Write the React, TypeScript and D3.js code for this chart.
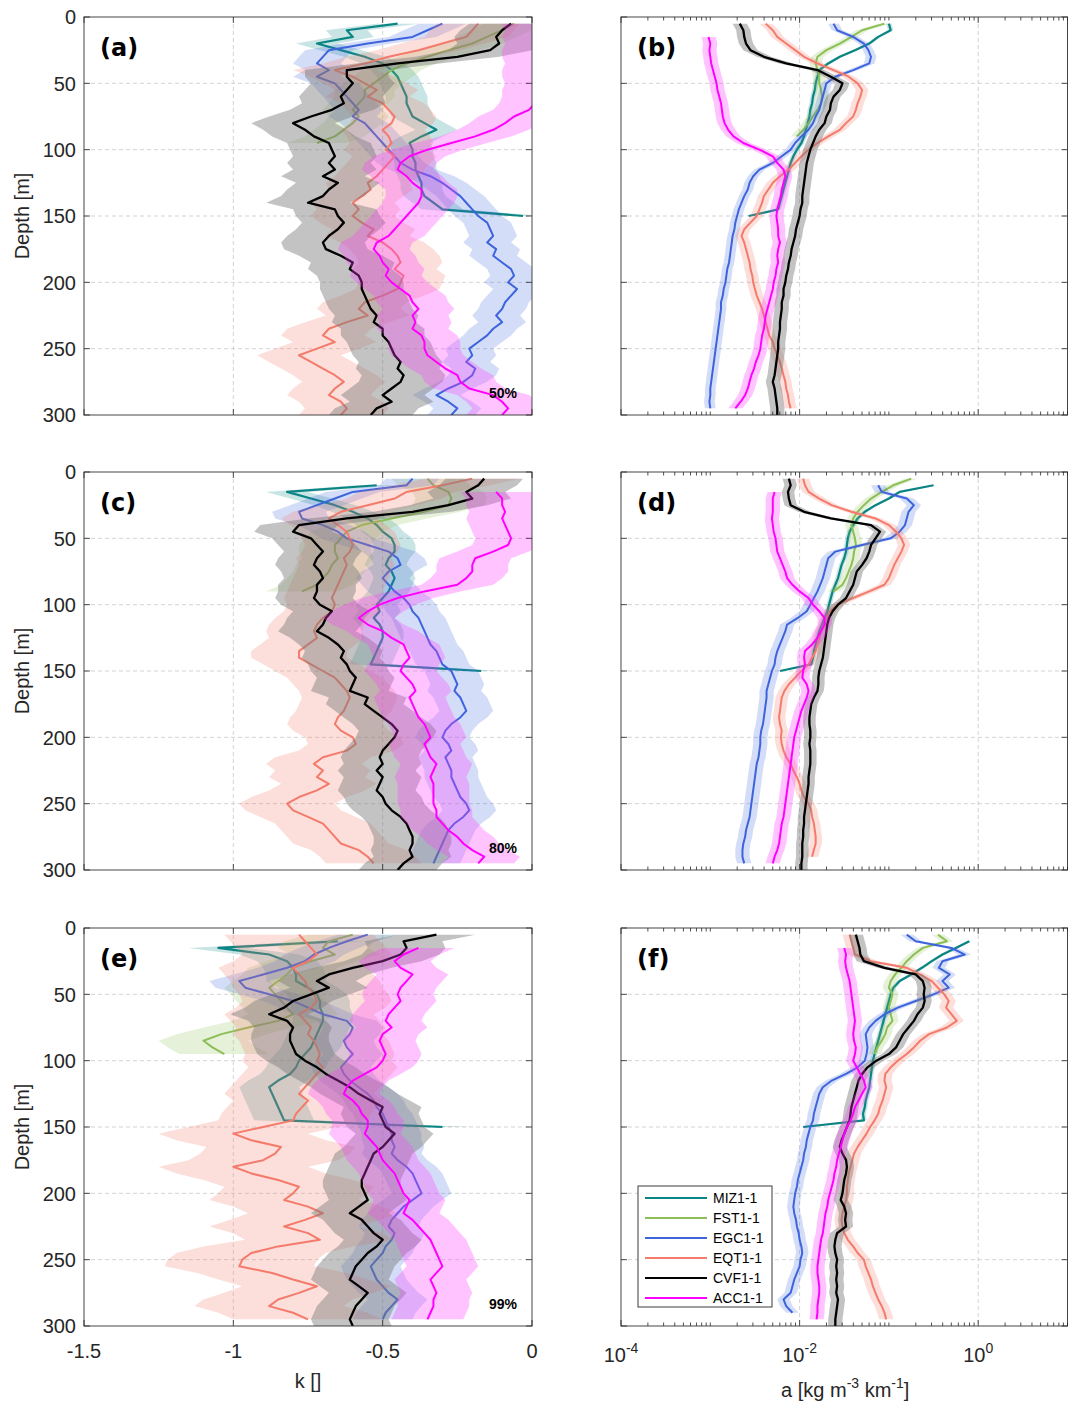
import React from "react";
import * as d3 from "d3";

// depth grid (m)
const DEPTHS = [0,5,10,15,20,25,30,35,40,45,50,55,60,65,70,75,80,85,90,95,100,105,110,115,120,125,130,135,140,145,150,155,160,165,170,175,180,185,190,195,200,205,210,215,220,225,230,235,240,245,250,255,260,265,270,275,280,285,290,295,300];

const SERIES_NAMES = ["MIZ1-1","FST1-1","EGC1-1","EQT1-1","CVF1-1","ACC1-1"];
const PANEL_LABELS = ["(a)","(b)","(c)","(d)","(e)","(f)"];
const PERCENT_LABELS = ["50%","80%","99%"];
const K_TICKS = [-1.5,-1,-0.5,0];
const K_TICK_LABELS = ["-1.5","-1","-0.5","0"];
const DEPTH_TICKS = [0,50,100,150,200,250,300];
const LOG_MAJOR = [-4,-2,0];

// ---- panel (a): k, 50% ----
const MIZ_A = [null,-0.45,-0.62,-0.60,-0.72,-0.64,-0.56,-0.50,-0.47,-0.45,-0.44,-0.43,-0.42,-0.42,-0.41,-0.40,-0.36,-0.32,-0.37,-0.41,-0.40,-0.40,-0.39,-0.39,-0.38,-0.37,-0.37,-0.36,-0.33,-0.30,-0.03];
const FST_A = [null,-0.06,-0.10,-0.15,-0.20,-0.28,-0.35,-0.42,-0.47,-0.50,-0.53,-0.56,-0.56,-0.58,-0.60,-0.58,-0.60,-0.63,-0.66,-0.72];
const EGC_A = [null,-0.30,-0.35,-0.40,-0.55,-0.68,-0.70,-0.72,-0.68,-0.72,-0.66,-0.64,-0.62,-0.60,-0.58,-0.60,-0.56,-0.54,-0.52,-0.50,-0.48,-0.46,-0.44,-0.40,-0.34,-0.30,-0.27,-0.24,-0.22,-0.20,-0.18,-0.15,-0.14,-0.13,-0.15,-0.12,-0.13,-0.10,-0.07,-0.06,-0.08,-0.05,-0.07,-0.09,-0.10,-0.12,-0.10,-0.13,-0.15,-0.18,-0.21,-0.20,-0.22,-0.19,-0.20,-0.23,-0.28,-0.32,-0.28,-0.25,-0.27];
const EQT_A = [null,-0.18,-0.20,-0.22,-0.30,-0.38,-0.48,-0.56,-0.66,-0.60,-0.56,-0.52,-0.55,-0.50,-0.48,-0.46,-0.47,-0.50,-0.48,-0.47,-0.49,-0.46,-0.48,-0.50,-0.52,-0.55,-0.54,-0.57,-0.60,-0.58,-0.60,-0.57,-0.53,-0.55,-0.50,-0.47,-0.45,-0.44,-0.46,-0.43,-0.44,-0.45,-0.50,-0.56,-0.58,-0.55,-0.62,-0.68,-0.70,-0.66,-0.72,-0.78,-0.74,-0.70,-0.66,-0.63,-0.66,-0.68,-0.64,-0.62,-0.64];
const CVF_A = [null,-0.07,-0.10,-0.12,-0.11,-0.14,-0.25,-0.45,-0.62,-0.62,-0.60,-0.62,-0.64,-0.63,-0.67,-0.74,-0.80,-0.76,-0.73,-0.68,-0.67,-0.66,-0.68,-0.66,-0.70,-0.65,-0.68,-0.70,-0.75,-0.66,-0.65,-0.63,-0.65,-0.68,-0.70,-0.69,-0.64,-0.60,-0.61,-0.58,-0.57,-0.57,-0.56,-0.55,-0.54,-0.52,-0.53,-0.50,-0.50,-0.48,-0.47,-0.46,-0.44,-0.45,-0.43,-0.44,-0.47,-0.50,-0.47,-0.52,-0.54];
const ACC_A = [null,0.02,0.03,0.02,0.03,0.02,0.02,0.03,0.02,0.02,0.03,0.02,0.02,0.01,-0.01,-0.06,-0.09,-0.13,-0.19,-0.27,-0.35,-0.41,-0.44,-0.45,-0.42,-0.40,-0.37,-0.37,-0.38,-0.40,-0.42,-0.44,-0.46,-0.48,-0.52,-0.53,-0.51,-0.50,-0.48,-0.49,-0.47,-0.44,-0.41,-0.40,-0.38,-0.40,-0.39,-0.40,-0.37,-0.36,-0.36,-0.35,-0.32,-0.29,-0.25,-0.24,-0.21,-0.13,-0.10,-0.08,-0.10];

// ---- panel (b): log10 a, 50% ----
const MIZ_B = [null,-1.00,-0.98,-1.12,-1.22,-1.38,-1.55,-1.68,-1.78,-1.80,-1.82,-1.83,-1.85,-1.86,-1.88,-1.89,-1.91,-1.93,-1.95,-1.98,-2.03,-2.07,-2.10,-2.12,-2.14,-2.16,-2.18,-2.20,-2.22,-2.24,-2.57];
const FST_B = [null,-1.05,-1.30,-1.42,-1.55,-1.70,-1.80,-1.82,-1.80,-1.78,-1.78,-1.76,-1.75,-1.76,-1.80,-1.85,-1.90,-1.96,-2.03];
const EGC_B = [null,-1.62,-1.58,-1.40,-1.28,-1.23,-1.20,-1.22,-1.40,-1.60,-1.70,-1.72,-1.74,-1.76,-1.78,-1.82,-1.85,-1.90,-1.98,-2.05,-2.10,-2.20,-2.30,-2.45,-2.52,-2.56,-2.58,-2.62,-2.65,-2.68,-2.70,-2.72,-2.73,-2.75,-2.76,-2.77,-2.78,-2.79,-2.81,-2.82,-2.83,-2.85,-2.86,-2.88,-2.88,-2.89,-2.90,-2.91,-2.92,-2.93,-2.94,-2.95,-2.96,-2.97,-2.98,-2.99,-3.00,-3.00,-3.01,-3.00];
const EQT_B = [null,-2.38,-2.30,-2.25,-2.15,-2.05,-1.95,-1.80,-1.62,-1.45,-1.35,-1.30,-1.32,-1.35,-1.37,-1.40,-1.48,-1.55,-1.68,-1.80,-1.90,-1.98,-2.05,-2.12,-2.22,-2.30,-2.35,-2.40,-2.42,-2.45,-2.48,-2.55,-2.62,-2.65,-2.62,-2.60,-2.58,-2.56,-2.55,-2.53,-2.52,-2.50,-2.48,-2.45,-2.42,-2.40,-2.38,-2.36,-2.34,-2.30,-2.28,-2.25,-2.22,-2.20,-2.18,-2.16,-2.15,-2.13,-2.12,-2.10];
const CVF_B = [null,-2.67,-2.63,-2.62,-2.60,-2.55,-2.40,-2.15,-1.80,-1.65,-1.52,-1.55,-1.62,-1.65,-1.66,-1.70,-1.72,-1.78,-1.82,-1.85,-1.88,-1.90,-1.92,-1.93,-1.94,-1.95,-1.96,-1.97,-1.97,-1.99,-2.00,-2.02,-2.04,-2.05,-2.07,-2.09,-2.10,-2.12,-2.13,-2.15,-2.16,-2.18,-2.18,-2.20,-2.20,-2.21,-2.22,-2.22,-2.23,-2.24,-2.24,-2.25,-2.26,-2.27,-2.28,-2.30,-2.28,-2.27,-2.26,-2.25,-2.25];
const ACC_B = [null,null,null,-3.02,-3.00,-3.01,-3.00,-2.99,-2.97,-2.95,-2.93,-2.92,-2.90,-2.88,-2.87,-2.86,-2.84,-2.80,-2.74,-2.63,-2.45,-2.30,-2.25,-2.18,-2.16,-2.18,-2.20,-2.21,-2.23,-2.25,-2.26,-2.25,-2.24,-2.24,-2.22,-2.24,-2.25,-2.24,-2.26,-2.27,-2.29,-2.30,-2.32,-2.34,-2.36,-2.38,-2.39,-2.40,-2.42,-2.43,-2.44,-2.46,-2.49,-2.51,-2.54,-2.56,-2.58,-2.61,-2.66,-2.72];

// ---- panel (c): k, 80% ----
const MIZ_C = [null,null,-0.52,-0.82,-0.74,-0.66,-0.60,-0.55,-0.52,-0.50,-0.47,-0.46,-0.46,-0.48,-0.49,-0.47,-0.46,-0.47,-0.48,-0.50,-0.52,-0.51,-0.53,-0.51,-0.50,-0.50,-0.51,-0.52,-0.53,-0.54,-0.17];
const FST_C = [null,-0.35,-0.33,-0.28,-0.27,-0.28,-0.36,-0.47,-0.57,-0.62,-0.64,-0.66,-0.66,-0.65,-0.67,-0.68,-0.70,-0.72,-0.77];
const EGC_C = [null,-0.40,-0.42,-0.60,-0.66,-0.72,-0.78,-0.77,-0.70,-0.65,-0.62,-0.55,-0.48,-0.45,-0.44,-0.48,-0.50,-0.48,-0.46,-0.43,-0.41,-0.40,-0.38,-0.37,-0.36,-0.35,-0.34,-0.32,-0.31,-0.30,-0.27,-0.26,-0.25,-0.26,-0.24,-0.23,-0.22,-0.24,-0.27,-0.29,-0.30,-0.28,-0.27,-0.29,-0.28,-0.27,-0.27,-0.26,-0.25,-0.24,-0.22,-0.21,-0.23,-0.26,-0.28,-0.29,-0.30,-0.31,-0.32,-0.33];
const EQT_C = [null,-0.20,-0.30,-0.42,-0.46,-0.55,-0.64,-0.68,-0.65,-0.62,-0.61,-0.60,-0.61,-0.63,-0.62,-0.63,-0.64,-0.65,-0.66,-0.67,-0.66,-0.67,-0.70,-0.72,-0.73,-0.72,-0.75,-0.78,-0.78,-0.74,-0.70,-0.66,-0.64,-0.62,-0.61,-0.62,-0.63,-0.65,-0.66,-0.64,-0.60,-0.59,-0.62,-0.70,-0.73,-0.70,-0.72,-0.68,-0.72,-0.78,-0.82,-0.80,-0.75,-0.70,-0.68,-0.66,-0.64,-0.58,-0.55,-0.53];
const CVF_C = [null,-0.16,-0.18,-0.22,-0.20,-0.28,-0.40,-0.62,-0.78,-0.80,-0.74,-0.72,-0.70,-0.72,-0.73,-0.71,-0.70,-0.72,-0.72,-0.73,-0.71,-0.67,-0.69,-0.70,-0.72,-0.68,-0.65,-0.63,-0.64,-0.62,-0.61,-0.59,-0.60,-0.61,-0.55,-0.56,-0.53,-0.50,-0.47,-0.45,-0.46,-0.48,-0.50,-0.51,-0.50,-0.52,-0.50,-0.51,-0.52,-0.50,-0.49,-0.47,-0.44,-0.42,-0.41,-0.40,-0.40,-0.41,-0.40,-0.43,-0.45];
const ACC_C = [null,null,null,-0.12,-0.10,-0.10,-0.09,-0.10,-0.09,-0.08,-0.07,-0.08,-0.13,-0.19,-0.20,-0.20,-0.22,-0.25,-0.36,-0.45,-0.51,-0.55,-0.58,-0.55,-0.50,-0.47,-0.43,-0.42,-0.41,-0.43,-0.44,-0.42,-0.40,-0.39,-0.41,-0.40,-0.39,-0.38,-0.36,-0.35,-0.34,-0.36,-0.35,-0.34,-0.32,-0.33,-0.34,-0.33,-0.33,-0.33,-0.33,-0.32,-0.32,-0.30,-0.28,-0.25,-0.23,-0.20,-0.16,-0.18];

// ---- panel (d): log10 a, 80% ----
const MIZ_D = [null,null,-0.50,-0.88,-1.00,-1.15,-1.27,-1.35,-1.40,-1.44,-1.46,-1.47,-1.48,-1.50,-1.53,-1.55,-1.57,-1.60,-1.63,-1.65,-1.67,-1.69,-1.72,-1.75,-1.78,-1.80,-1.82,-1.84,-1.85,-1.87,-2.22];
const FST_D = [null,-0.75,-0.95,-1.08,-1.20,-1.28,-1.35,-1.40,-1.42,-1.40,-1.38,-1.37,-1.39,-1.40,-1.42,-1.45,-1.48,-1.52,-1.62];
const EGC_D = [null,null,-1.12,-1.08,-0.80,-0.72,-0.78,-0.80,-0.82,-0.88,-0.98,-1.30,-1.60,-1.68,-1.70,-1.72,-1.74,-1.77,-1.80,-1.84,-1.88,-1.92,-2.02,-2.14,-2.16,-2.19,-2.22,-2.25,-2.27,-2.28,-2.31,-2.33,-2.35,-2.37,-2.37,-2.38,-2.39,-2.40,-2.41,-2.43,-2.44,-2.44,-2.45,-2.46,-2.48,-2.49,-2.50,-2.51,-2.52,-2.53,-2.54,-2.55,-2.56,-2.58,-2.60,-2.61,-2.63,-2.64,-2.64,-2.62];
const EQT_D = [null,-1.96,-1.94,-1.90,-1.78,-1.64,-1.42,-1.15,-1.00,-0.92,-0.86,-0.83,-0.86,-0.90,-0.94,-0.97,-1.00,-1.05,-1.22,-1.40,-1.58,-1.66,-1.70,-1.72,-1.76,-1.78,-1.80,-1.82,-1.86,-1.90,-1.98,-2.05,-2.12,-2.17,-2.20,-2.21,-2.22,-2.23,-2.22,-2.20,-2.21,-2.20,-2.18,-2.15,-2.10,-2.07,-2.03,-2.00,-1.98,-1.95,-1.90,-1.87,-1.86,-1.84,-1.83,-1.82,-1.82,-1.84,-1.86];
const CVF_D = [null,-2.12,-2.10,-2.13,-2.12,-2.10,-1.95,-1.65,-1.20,-1.10,-1.15,-1.20,-1.22,-1.25,-1.30,-1.36,-1.38,-1.40,-1.44,-1.48,-1.57,-1.63,-1.67,-1.69,-1.70,-1.71,-1.72,-1.73,-1.74,-1.76,-1.78,-1.79,-1.79,-1.80,-1.84,-1.87,-1.88,-1.89,-1.89,-1.88,-1.88,-1.89,-1.88,-1.88,-1.88,-1.89,-1.90,-1.90,-1.91,-1.92,-1.93,-1.94,-1.95,-1.95,-1.96,-1.96,-1.97,-1.97,-1.97,-1.98,-1.98];
const ACC_D = [null,null,null,-2.28,-2.30,-2.30,-2.30,-2.31,-2.30,-2.29,-2.27,-2.26,-2.25,-2.22,-2.19,-2.16,-2.14,-2.08,-2.00,-1.90,-1.85,-1.78,-1.72,-1.72,-1.76,-1.80,-1.86,-1.94,-1.95,-1.94,-1.96,-1.97,-1.92,-1.90,-1.92,-1.95,-1.98,-2.00,-2.02,-2.04,-2.06,-2.07,-2.08,-2.09,-2.10,-2.11,-2.12,-2.13,-2.14,-2.15,-2.16,-2.17,-2.18,-2.20,-2.21,-2.22,-2.23,-2.25,-2.28,-2.30];

// ---- panel (e): k, 99% ----
const MIZ_E = [null,null,-0.65,-1.05,-0.88,-0.82,-0.80,-0.79,-0.79,-0.75,-0.72,-0.71,-0.71,-0.70,-0.70,-0.71,-0.72,-0.73,-0.74,-0.76,-0.78,-0.79,-0.81,-0.85,-0.88,-0.87,-0.86,-0.85,-0.84,-0.83,-0.30];
const FST_E = [null,-0.60,-0.68,-0.70,-0.66,-0.74,-0.80,-0.82,-0.85,-0.88,-0.86,-0.84,-0.82,-0.80,-0.85,-0.95,-1.04,-1.10,-1.07,-1.03];
const EGC_E = [null,-0.55,-0.62,-0.68,-0.73,-0.76,-0.82,-0.90,-0.98,-0.96,-0.88,-0.80,-0.75,-0.70,-0.62,-0.60,-0.61,-0.63,-0.62,-0.60,-0.62,-0.64,-0.63,-0.61,-0.58,-0.55,-0.53,-0.52,-0.50,-0.49,-0.48,-0.47,-0.47,-0.46,-0.47,-0.45,-0.42,-0.40,-0.39,-0.38,-0.37,-0.40,-0.43,-0.45,-0.47,-0.48,-0.46,-0.47,-0.49,-0.50,-0.52,-0.54,-0.53,-0.52,-0.50,-0.48,-0.45,-0.47,-0.49,-0.50];
const EQT_E = [null,-0.78,-0.76,-0.74,-0.72,-0.75,-0.80,-0.78,-0.76,-0.75,-0.73,-0.72,-0.74,-0.78,-0.76,-0.74,-0.75,-0.73,-0.72,-0.71,-0.72,-0.70,-0.72,-0.74,-0.76,-0.78,-0.75,-0.77,-0.79,-0.80,-0.90,-1.00,-0.94,-0.84,-0.86,-0.90,-1.00,-0.94,-0.85,-0.78,-0.80,-0.83,-0.75,-0.70,-0.76,-0.83,-0.75,-0.71,-0.85,-0.94,-0.97,-0.98,-0.87,-0.80,-0.72,-0.78,-0.85,-0.88,-0.80,-0.75];
const CVF_E = [null,-0.32,-0.43,-0.42,-0.44,-0.50,-0.60,-0.68,-0.72,-0.68,-0.74,-0.80,-0.83,-0.88,-0.82,-0.80,-0.81,-0.81,-0.80,-0.79,-0.76,-0.72,-0.69,-0.65,-0.61,-0.58,-0.54,-0.50,-0.51,-0.50,-0.49,-0.46,-0.48,-0.50,-0.53,-0.54,-0.55,-0.56,-0.57,-0.57,-0.56,-0.55,-0.58,-0.61,-0.57,-0.55,-0.53,-0.50,-0.52,-0.55,-0.57,-0.59,-0.60,-0.61,-0.58,-0.55,-0.57,-0.59,-0.60,-0.61,-0.60];
const ACC_E = [null,null,null,-0.38,-0.43,-0.46,-0.44,-0.40,-0.42,-0.44,-0.45,-0.44,-0.46,-0.48,-0.49,-0.47,-0.50,-0.51,-0.50,-0.49,-0.50,-0.52,-0.56,-0.60,-0.62,-0.63,-0.60,-0.58,-0.57,-0.55,-0.55,-0.56,-0.54,-0.52,-0.51,-0.50,-0.48,-0.46,-0.45,-0.44,-0.43,-0.41,-0.42,-0.43,-0.40,-0.38,-0.36,-0.34,-0.33,-0.32,-0.31,-0.30,-0.32,-0.34,-0.33,-0.32,-0.33,-0.33,-0.34,-0.35];

// ---- panel (f): log10 a, 99% ----
const MIZ_F = [null,null,-0.10,-0.25,-0.40,-0.52,-0.63,-0.75,-0.88,-0.95,-0.98,-1.00,-1.02,-1.04,-1.06,-1.08,-1.10,-1.12,-1.14,-1.16,-1.18,-1.19,-1.20,-1.21,-1.22,-1.24,-1.26,-1.27,-1.29,-1.28,-1.96];
const FST_F = [null,-0.45,-0.35,-0.62,-0.72,-0.80,-0.86,-0.93,-0.98,-1.00,-0.96,-0.98,-1.00,-0.98,-0.96,-1.02,-1.04,-1.08,-1.13,-1.16];
const EGC_F = [null,-0.80,-0.70,-0.30,-0.15,-0.40,-0.44,-0.32,-0.40,-0.33,-0.50,-0.70,-0.90,-1.05,-1.15,-1.22,-1.26,-1.25,-1.24,-1.25,-1.27,-1.35,-1.48,-1.64,-1.74,-1.78,-1.80,-1.82,-1.84,-1.85,-1.88,-1.90,-1.92,-1.93,-1.95,-1.96,-1.98,-2.00,-2.02,-2.03,-2.05,-2.06,-2.07,-2.06,-2.04,-2.03,-2.01,-2.00,-1.98,-1.97,-1.99,-2.00,-2.03,-2.06,-2.08,-2.10,-2.18,-2.15,-2.08];
const EQT_F = [null,-1.44,-1.42,-1.40,-1.38,-1.20,-0.80,-0.65,-0.52,-0.45,-0.38,-0.33,-0.36,-0.30,-0.24,-0.35,-0.55,-0.65,-0.72,-0.80,-0.90,-0.98,-1.04,-1.05,-1.03,-1.05,-1.07,-1.10,-1.12,-1.16,-1.21,-1.25,-1.30,-1.35,-1.39,-1.41,-1.43,-1.45,-1.46,-1.47,-1.47,-1.48,-1.50,-1.52,-1.53,-1.52,-1.50,-1.46,-1.40,-1.35,-1.28,-1.26,-1.23,-1.20,-1.18,-1.15,-1.12,-1.08,-1.05,-1.03];
const CVF_F = [null,-1.37,-1.35,-1.33,-1.32,-1.28,-1.05,-0.70,-0.62,-0.60,-0.61,-0.60,-0.62,-0.68,-0.72,-0.78,-0.84,-0.88,-0.92,-1.00,-1.14,-1.24,-1.30,-1.34,-1.36,-1.38,-1.40,-1.42,-1.43,-1.44,-1.47,-1.50,-1.53,-1.55,-1.52,-1.48,-1.47,-1.48,-1.50,-1.51,-1.52,-1.54,-1.50,-1.48,-1.49,-1.48,-1.58,-1.60,-1.61,-1.60,-1.58,-1.59,-1.58,-1.59,-1.58,-1.59,-1.57,-1.58,-1.59,-1.60,-1.60];
const ACC_F = [null,null,null,-1.50,-1.48,-1.49,-1.48,-1.46,-1.44,-1.43,-1.42,-1.41,-1.40,-1.39,-1.38,-1.39,-1.40,-1.39,-1.37,-1.38,-1.40,-1.36,-1.32,-1.28,-1.26,-1.30,-1.34,-1.38,-1.40,-1.43,-1.47,-1.50,-1.52,-1.54,-1.56,-1.58,-1.59,-1.61,-1.62,-1.64,-1.66,-1.68,-1.69,-1.71,-1.72,-1.73,-1.74,-1.76,-1.77,-1.78,-1.79,-1.80,-1.80,-1.79,-1.78,-1.78,-1.79,-1.80,-1.80,-1.81];

// spread half-widths (k units for left panels, decades for right panels), order MIZ,FST,EGC,EQT,CVF,ACC
const BAND_A = [0.07,0.10,0.08,0.14,0.14,0.12];
const BAND_B = [0.03,0.07,0.06,0.07,0.08,0.08];
const BAND_C = [0.07,0.12,0.09,0.16,0.13,0.12];
const BAND_D = [0.03,0.07,0.08,0.07,0.07,0.08];
const BAND_E = [0.10,0.15,0.10,0.25,0.13,0.12];
const BAND_F = [0.03,0.07,0.07,0.08,0.08,0.08];

const COLORS = ["#0b8583","#8cbf55","#3d63dd","#f47b6b","#000000","#ff00ff"];
const BAND_COLORS = ["#0b8583","#8cbf55","#3d63dd","#f47b6b","#7a7a7a","#ff3cff"];
const BAND_OPAC = [0.22,0.22,0.22,0.25,0.45,0.3];
const LINE_W = [2.2, 2, 2, 2, 2.3, 2];

const PANELS = [
  { data: [MIZ_A, FST_A, EGC_A, EQT_A, CVF_A, ACC_A], band: BAND_A, col: 0, row: 0 },
  { data: [MIZ_B, FST_B, EGC_B, EQT_B, CVF_B, ACC_B], band: BAND_B, col: 1, row: 0 },
  { data: [MIZ_C, FST_C, EGC_C, EQT_C, CVF_C, ACC_C], band: BAND_C, col: 0, row: 1 },
  { data: [MIZ_D, FST_D, EGC_D, EQT_D, CVF_D, ACC_D], band: BAND_D, col: 1, row: 1 },
  { data: [MIZ_E, FST_E, EGC_E, EQT_E, CVF_E, ACC_E], band: BAND_E, col: 0, row: 2 },
  { data: [MIZ_F, FST_F, EGC_F, EQT_F, CVF_F, ACC_F], band: BAND_F, col: 1, row: 2 },
];

const COL_X = [[84, 532], [621, 1067.5]];
const ROW_Y = [[17, 415], [472, 870], [928, 1326]];
const FONT = "'Liberation Sans', Arial, Helvetica, sans-serif";
const AX = "#262626";

type Pt = { d: number; v: number | null };

function Panel({ p, idx }: { p: any; idx: number }) {
  const [x0, x1] = COL_X[p.col];
  const [y0, y1] = ROW_Y[p.row];
  const isLog = p.col === 1;
  const y = d3.scaleLinear().domain([0, 300]).range([y0, y1]);
  const xk = d3.scaleLinear().domain([-1.5, 0]).range([x0, x1]);
  const xl = d3.scaleLog().domain([1e-4, 10]).range([x0, x1]);
  const X = (v: number) => (isLog ? xl(Math.pow(10, v)) : xk(v));
  const clipId = "clip" + idx;

  const gridX = isLog ? [1e-2, 1].map((v) => xl(v)) : [-1, -0.5].map((v) => xk(v));
  const gridY = [50, 100, 150, 200, 250].map((d) => y(d));

  const xTicks: { x: number; major: boolean }[] = isLog
    ? xl.ticks().map((t) => {
        const lg = Math.round(Math.log10(t) * 1000) / 1000;
        return { x: xl(t), major: LOG_MAJOR.includes(lg) };
      })
    : K_TICKS.map((t) => ({ x: xk(t), major: true }));

  return (
    <g>
      <defs>
        <clipPath id={clipId}>
          <rect x={x0} y={y0} width={x1 - x0} height={y1 - y0} />
        </clipPath>
      </defs>
      <rect x={x0} y={y0} width={x1 - x0} height={y1 - y0} fill="#fff" />
      {gridX.map((gx, i) => (
        <line key={"gx" + i} x1={gx} x2={gx} y1={y0} y2={y1} stroke="#c8c8c8" strokeWidth={0.8} strokeDasharray="4,3" />
      ))}
      {gridY.map((gy, i) => (
        <line key={"gy" + i} x1={x0} x2={x1} y1={gy} y2={gy} stroke="#c8c8c8" strokeWidth={0.8} strokeDasharray="4,3" />
      ))}
      <g clipPath={`url(#${clipId})`}>
        {p.data.map((arr: (number | null)[], si: number) => {
          const pts: Pt[] = arr.map((v, i) => ({ d: DEPTHS[i], v }));
          const w = p.band[si];
          const area = d3
            .area<Pt>()
            .defined((q) => q.v != null)
            .y((q) => y(q.d))
            .x0((q) => X((q.v as number) - w))
            .x1((q) => X((q.v as number) + w));
          const line = d3
            .line<Pt>()
            .defined((q) => q.v != null)
            .y((q) => y(q.d))
            .x((q) => X(q.v as number));
          return (
            <g key={si}>
              <path d={area(pts) || ""} fill={BAND_COLORS[si]} fillOpacity={BAND_OPAC[si]} stroke="none" />
              <path d={line(pts) || ""} fill="none" stroke={COLORS[si]} strokeWidth={LINE_W[si]} strokeLinejoin="round" />
            </g>
          );
        })}
      </g>
      {xTicks.map((t, i) => {
        const len = t.major ? 6 : 3.5;
        return (
          <g key={"xt" + i}>
            <line x1={t.x} x2={t.x} y1={y1} y2={y1 - len} stroke={AX} strokeWidth={0.8} />
            <line x1={t.x} x2={t.x} y1={y0} y2={y0 + len} stroke={AX} strokeWidth={0.8} />
          </g>
        );
      })}
      {DEPTH_TICKS.map((d, i) => (
        <g key={"yt" + i}>
          <line x1={x0} x2={x0 + 6} y1={y(d)} y2={y(d)} stroke={AX} strokeWidth={0.8} />
          <line x1={x1} x2={x1 - 6} y1={y(d)} y2={y(d)} stroke={AX} strokeWidth={0.8} />
        </g>
      ))}
      <rect x={x0} y={y0} width={x1 - x0} height={y1 - y0} fill="none" stroke={AX} strokeWidth={1} opacity={0.85} />
      {!isLog &&
        DEPTH_TICKS.map((d, i) => (
          <text key={"yl" + i} x={x0 - 8} y={y(d)} dy="0.36em" textAnchor="end" fontSize={20} fontFamily={FONT} fill={AX}>
            {d}
          </text>
        ))}
      {!isLog && (
        <text transform={`translate(29,${(y0 + y1) / 2}) rotate(-90)`} textAnchor="middle" fontSize={20} fontFamily={FONT} fill={AX}>
          Depth [m]
        </text>
      )}
      <text x={x0 + 16} y={y0 + 39} fontSize={24} fontWeight="bold" fontFamily="'DejaVu Sans', sans-serif" fill="#000">
        {PANEL_LABELS[idx]}
      </text>
      {!isLog && (
        <text x={x1 - 15} y={y0 + 381} textAnchor="end" fontSize={14} fontWeight="bold" fontFamily={FONT} fill="#000">
          {PERCENT_LABELS[p.row]}
        </text>
      )}
      {p.row === 2 && !isLog &&
        K_TICKS.map((t, i) => (
          <text key={"xl" + i} x={xk(t)} y={y1 + 32} textAnchor="middle" fontSize={20} fontFamily={FONT} fill={AX}>
            {K_TICK_LABELS[i]}
          </text>
        ))}
      {p.row === 2 && !isLog && (
        <text x={(x0 + x1) / 2} y={y1 + 62} textAnchor="middle" fontSize={20} fontFamily={FONT} fill={AX}>
          k []
        </text>
      )}
      {p.row === 2 && isLog &&
        LOG_MAJOR.map((e, i) => (
          <text key={"ll" + i} x={xl(Math.pow(10, e))} y={y1 + 36} textAnchor="middle" fontSize={20} fontFamily={FONT} fill={AX}>
            <tspan>10</tspan>
            <tspan dy={-9} fontSize={14}>{String(e)}</tspan>
          </text>
        ))}
      {p.row === 2 && isLog && (
        <text x={(x0 + x1) / 2 + 1} y={y1 + 71} textAnchor="middle" fontSize={20} fontFamily={FONT} fill={AX}>
          <tspan>a [kg m</tspan>
          <tspan dy={-9} fontSize={14}>-3</tspan>
          <tspan dy={9}> km</tspan>
          <tspan dy={-9} fontSize={14}>-1</tspan>
          <tspan dy={9}>]</tspan>
        </text>
      )}
    </g>
  );
}

function Legend() {
  const bx = 638, by = 1186, bw = 134, bh = 121;
  return (
    <g>
      <rect x={bx} y={by} width={bw} height={bh} fill="#fff" stroke={AX} strokeWidth={0.9} />
      {SERIES_NAMES.map((n, i) => {
        const yy = by + 12 + i * 20;
        return (
          <g key={n}>
            <line x1={bx + 7} x2={bx + 69} y1={yy} y2={yy} stroke={COLORS[i]} strokeWidth={2} />
            <text x={bx + 75} y={yy} dy="0.36em" fontSize={14} fontFamily={FONT} fill="#000">
              {n}
            </text>
          </g>
        );
      })}
    </g>
  );
}

export default function App() {
  return (
    <svg
      width={1068}
      height={1407}
      viewBox="0 0 1068 1407"
      style={{ position: "absolute", left: 0, top: 0, background: "#fff" }}
    >
      <rect width={1068} height={1407} fill="#fff" />
      {PANELS.map((p, i) => (
        <Panel key={i} p={p} idx={i} />
      ))}
      <Legend />
    </svg>
  );
}
